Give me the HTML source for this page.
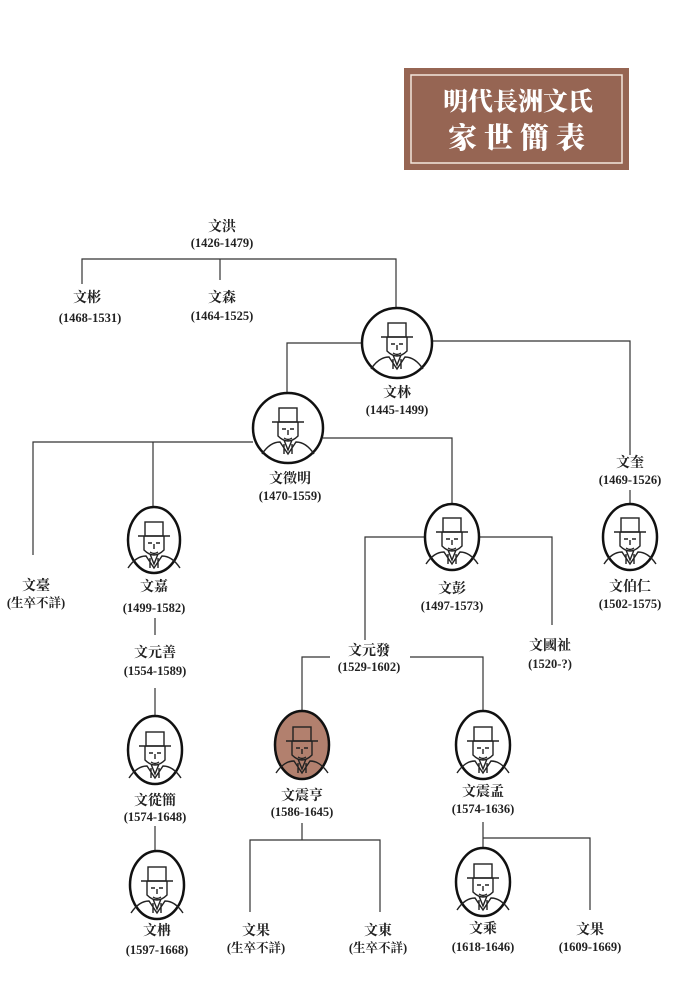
<!DOCTYPE html>
<html><head><meta charset="utf-8"><style>
html,body{margin:0;padding:0;background:#fff}
svg{display:block}
.n{font-family:"Liberation Serif","Noto Serif CJK SC",serif;font-size:14px;fill:#222;text-anchor:middle;font-weight:bold}
.d{font-family:"Liberation Serif","Noto Serif CJK SC",serif;font-size:12.5px;fill:#222;text-anchor:middle;font-weight:bold}
.t{font-family:"Noto Serif CJK SC",serif;font-weight:900;fill:#fff;text-anchor:middle}
</style></head><body>
<svg width="694" height="983" viewBox="0 0 694 983" xmlns="http://www.w3.org/2000/svg">
<defs>
<g id="f" fill="none" stroke="#222" stroke-width="1.4">
<rect x="-9" y="-24" width="18" height="14"/>
<path d="M-16,-10 h32 M-10,-10 v14 q10,10 20,0 v-14 M-6,-3 h4 M2,-3 h4 M0,-2 v5 M-4,6 q4,3 8,0 M-4,8 l4,10 l4,-10 M-26,22 q8,-12 18,-12 l8,12 l8,-12 q10,0 18,12 M-4,12 v10 M4,12 v10"/>
</g>
</defs>
<!-- title -->
<rect x="404" y="68" width="225" height="102" fill="#966553"/>
<rect x="411" y="75" width="211" height="88" fill="none" stroke="#f3e6dc" stroke-width="1.5"/>
<text class="t" x="518" y="110" font-size="25">明代長洲文氏</text>
<text class="t" x="520" y="148" font-size="29" letter-spacing="7">家世簡表</text>
<!-- lines -->
<g stroke="#333" stroke-width="1.2" fill="none">
<path d="M82,284 V259 H396 V308 M220,259 V280"/>
<path d="M362,343 H287 V393 M432,341 H630 V455"/>
<path d="M253,442 H33 V555 M153,442 V507 M323,438 H452 V504"/>
<path d="M155,618 V635 M155,688 V716 M155,826 V851"/>
<path d="M425,537 H365 V640 M479,537 H552 V625"/>
<path d="M330,657 H302 V711 M410,657 H483 V711"/>
<path d="M302,823 V840 M250,912 V840 H380 V912"/>
<path d="M483,822 V848 M483,838 H590 V910"/>
<path d="M630,490 V504"/>
</g>
<!-- circles -->
<g stroke="#111" stroke-width="2.5" fill="#fff">
<circle cx="397" cy="343" r="35"/>
<circle cx="288" cy="428" r="35"/>
<ellipse cx="154" cy="540" rx="26" ry="33"/>
<ellipse cx="452" cy="537" rx="27" ry="33"/>
<ellipse cx="630" cy="537" rx="27" ry="33"/>
<ellipse cx="155" cy="750" rx="27" ry="34"/>
<ellipse cx="302" cy="745" rx="27" ry="34" fill="#b2806e"/>
<ellipse cx="483" cy="745" rx="27" ry="34"/>
<ellipse cx="157" cy="885" rx="27" ry="34"/>
<ellipse cx="483" cy="882" rx="27" ry="34"/>
</g>
<use href="#f" x="397" y="347"/>
<use href="#f" x="288" y="432"/>
<use href="#f" x="154" y="546"/>
<use href="#f" x="452" y="542"/>
<use href="#f" x="630" y="542"/>
<use href="#f" x="155" y="756"/>
<use href="#f" x="302" y="751"/>
<use href="#f" x="483" y="751"/>
<use href="#f" x="157" y="891"/>
<use href="#f" x="483" y="888"/>
<!-- labels -->
<text class="n" x="222" y="231">文洪</text><text class="d" x="222" y="247">(1426-1479)</text>
<text class="n" x="87" y="302">文彬</text><text class="d" x="90" y="322">(1468-1531)</text>
<text class="n" x="222" y="302">文森</text><text class="d" x="222" y="320">(1464-1525)</text>
<text class="n" x="397" y="397">文林</text><text class="d" x="397" y="414">(1445-1499)</text>
<text class="n" x="290" y="483">文徵明</text><text class="d" x="290" y="500">(1470-1559)</text>
<text class="n" x="630" y="467">文奎</text><text class="d" x="630" y="484">(1469-1526)</text>
<text class="n" x="36" y="590">文臺</text><text class="d" x="36" y="607">(生卒不詳)</text>
<text class="n" x="154" y="591">文嘉</text><text class="d" x="154" y="612">(1499-1582)</text>
<text class="n" x="452" y="593">文彭</text><text class="d" x="452" y="610">(1497-1573)</text>
<text class="n" x="630" y="591">文伯仁</text><text class="d" x="630" y="608">(1502-1575)</text>
<text class="n" x="155" y="657">文元善</text><text class="d" x="155" y="675">(1554-1589)</text>
<text class="n" x="369" y="655">文元發</text><text class="d" x="369" y="671">(1529-1602)</text>
<text class="n" x="550" y="650">文國祉</text><text class="d" x="550" y="668">(1520-?)</text>
<text class="n" x="155" y="805">文從簡</text><text class="d" x="155" y="821">(1574-1648)</text>
<text class="n" x="302" y="800">文震亨</text><text class="d" x="302" y="816">(1586-1645)</text>
<text class="n" x="483" y="796">文震孟</text><text class="d" x="483" y="813">(1574-1636)</text>
<text class="n" x="157" y="935">文柟</text><text class="d" x="157" y="954">(1597-1668)</text>
<text class="n" x="256" y="935">文果</text><text class="d" x="256" y="952">(生卒不詳)</text>
<text class="n" x="378" y="935">文東</text><text class="d" x="378" y="952">(生卒不詳)</text>
<text class="n" x="483" y="933">文乘</text><text class="d" x="483" y="951">(1618-1646)</text>
<text class="n" x="590" y="934">文果</text><text class="d" x="590" y="951">(1609-1669)</text>
</svg>
</body></html>
